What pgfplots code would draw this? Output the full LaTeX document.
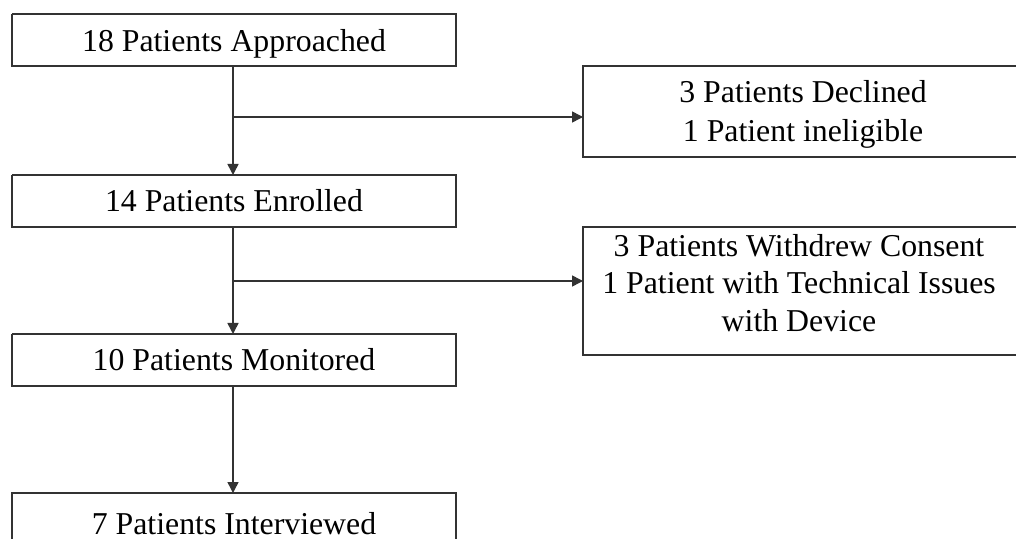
\documentclass[border=0pt]{standalone}
\usepackage{pgfplots}
\pgfplotsset{compat=1.18}
\usepackage{fontspec}
\setmainfont{Liberation Serif}
\usetikzlibrary{arrows.meta}
\tikzset{txt/.style={anchor=base, font=\fontsize{15.9pt}{18pt}\selectfont, inner sep=0pt, text=black},
  ln/.style={line width=0.75pt, draw=black!80, mark=none, solid},
  ar/.style={ln, -{Triangle[width=5.5pt,length=5.5pt]}}}
\begin{document}
\begin{tikzpicture}
\begin{axis}[
  scale only axis, width=508pt, height=269.5pt,
  xmin=0, xmax=1016, ymin=0, ymax=539, y dir=reverse,
  hide axis, clip=true,
]
% boxes
\addplot[ln] coordinates {(12,14) (456,14) (456,66) (12,66) (12,14)};
\addplot[ln] coordinates {(12,175) (456,175) (456,227) (12,227) (12,175)};
\addplot[ln] coordinates {(12,334) (456,334) (456,386) (12,386) (12,334)};
\addplot[ln] coordinates {(12,539) (12,493) (456,493) (456,539)};
\addplot[ln] coordinates {(1016,66) (583,66) (583,157) (1016,157)};
\addplot[ln] coordinates {(1016,227) (583,227) (583,355) (1016,355)};
% connectors
\addplot[ar] coordinates {(233,66) (233,175)};
\addplot[ar] coordinates {(233,117) (583,117)};
\addplot[ar] coordinates {(233,227) (233,334)};
\addplot[ar] coordinates {(233,281) (583,281)};
\addplot[ar] coordinates {(233,386) (233,493)};
% texts
\node[txt] at (axis cs:234,52) {18 Patients Approached};
\node[txt] at (axis cs:234,212) {14 Patients Enrolled};
\node[txt] at (axis cs:234,371) {10 Patients Monitored};
\node[txt] at (axis cs:234,534) {7 Patients Interviewed};
\node[txt] at (axis cs:803,103) {3 Patients Declined};
\node[txt] at (axis cs:803,142) {1 Patient ineligible};
\node[txt] at (axis cs:799,257) {3 Patients Withdrew Consent};
\node[txt] at (axis cs:799,294) {1 Patient with Technical Issues};
\node[txt] at (axis cs:799,332) {with Device};
\end{axis}
\pgfresetboundingbox
\useasboundingbox (current axis.south west) rectangle (current axis.north east);
\end{tikzpicture}
\end{document}
